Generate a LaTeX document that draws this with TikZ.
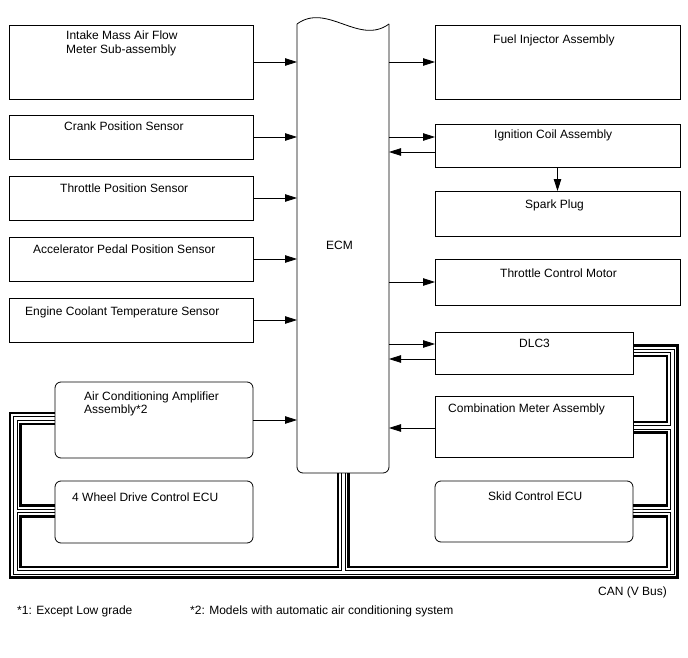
\documentclass[tikz,border=0pt]{standalone}
\usepackage{fontspec}
\setmainfont{Liberation Sans}
\usetikzlibrary{arrows.meta}
\begin{document}
\begin{tikzpicture}[x=1pt,y=-1pt,
  box/.style={draw,line width=0.8pt,inner sep=0,outer sep=0,anchor=north west},
  rbox/.style={box,rounded corners=6pt},
  lbl/.style={inner sep=0,anchor=base west,font=\fontsize{12}{14}\selectfont},
  arr/.style={line width=0.8pt,-{Triangle[length=12pt,width=7.5pt]}},
  busT/.style={line width=2.2pt},
  bust/.style={line width=0.6pt}]
\useasboundingbox (0,0) rectangle (688,658);
% left boxes
\node[box,minimum width=244,minimum height=74] (imf) at (9,25) {};
\node[box,minimum width=244,minimum height=44] (cps) at (9,115) {};
\node[box,minimum width=244,minimum height=44] (tps) at (9,176) {};
\node[box,minimum width=244,minimum height=44] (apps) at (9,237) {};
\node[box,minimum width=244,minimum height=44] (ects) at (9,298) {};
\node[rbox,minimum width=198,minimum height=76] (aca) at (55,382) {};
\node[rbox,minimum width=198,minimum height=62] (wd) at (55,481) {};
% right boxes
\node[box,minimum width=245,minimum height=74] (fia) at (435,25) {};
\node[box,minimum width=245,minimum height=43] (ica) at (435,124) {};
\node[box,minimum width=245,minimum height=45] (spk) at (435,191) {};
\node[box,minimum width=245,minimum height=46] (tcm) at (435,259) {};
\node[box,minimum width=198,minimum height=42] (dlc) at (435,332) {};
\node[box,minimum width=198,minimum height=61] (cma) at (435,396) {};
\node[rbox,minimum width=198,minimum height=61] (scu) at (435,481) {};
% ECM
\node[inner sep=0,outer sep=0,minimum width=92,minimum height=449,anchor=north west] (ecm) at (297,24) {};
\draw[line width=0.8pt,rounded corners=6pt] (ecm.north east) -- (ecm.south east) -- (ecm.south west) -- (ecm.north west);
\draw[line width=0.8pt] (ecm.north west) .. controls +(30,-22) and +(-30,22) .. (ecm.north east);
% labels
\node[lbl] (t1a) at (66,39.5) {Intake Mass Air Flow};
\node[lbl] (t1b) at (66,53.5) {Meter Sub-assembly};
\node[lbl] (t2) at (64,131) {Crank Position Sensor};
\node[lbl] (t3) at (60,192) {Throttle Position Sensor};
\node[lbl] (t4) at (33,253) {Accelerator Pedal Position Sensor};
\node[lbl] (t5) at (25,315) {Engine Coolant Temperature Sensor};
\node[lbl] (t6a) at (84,400) {Air Conditioning Amplifier};
\node[lbl] (t6b) at (84,413.5) {Assembly*2};
\node[lbl] (t7) at (72,501) {4 Wheel Drive Control ECU};
\node[lbl] (tecm) at (326,249) {ECM};
\node[lbl] (r1) at (493,44) {Fuel Injector Assembly};
\node[lbl] (r2) at (494,139) {Ignition Coil Assembly};
\node[lbl] (r3) at (525,208) {Spark Plug};
\node[lbl] (r4) at (500,277) {Throttle Control Motor};
\node[lbl] (r5) at (519,347) {DLC3};
\node[lbl] (r6) at (448,412) {Combination Meter Assembly};
\node[lbl] (r7) at (488,500) {Skid Control ECU};
\node[lbl,anchor=base east] (can) at (667,595) {CAN (V Bus)};
\node[lbl] (fn1) at (17,614) {*1: Except Low grade};
\node[lbl] (fn2) at (190,614) {*2: Models with automatic air conditioning system};
% arrows
\draw[arr] (imf.east) -- (imf.east -| ecm.west);
\draw[arr] (cps.east) -- (cps.east -| ecm.west);
\draw[arr] (tps.east) -- (tps.east -| ecm.west);
\draw[arr] (apps.east) -- (apps.east -| ecm.west);
\draw[arr] (ects.east) -- (ects.east -| ecm.west);
\draw[arr] (aca.east) -- (aca.east -| ecm.west);
\draw[arr] (ecm.east |- fia.west) -- (fia.west);
\draw[arr] (ecm.east |- 0,137) -- (ica.west |- 0,137);
\draw[arr] (ica.west |- 0,152) -- (ecm.east |- 0,152);
\draw[arr] (ica.south) -- (spk.north);
\draw[arr] (ecm.east |- tcm.west) -- (tcm.west);
\draw[arr] (ecm.east |- 0,344) -- (dlc.west |- 0,344);
\draw[arr] (dlc.west |- 0,359) -- (ecm.east |- 0,359);
\draw[arr] (cma.west |- 0,428) -- (ecm.east |- 0,428);
% CAN bus: outer loop
\draw[busT] (aca.west |- 0,413) -- (10,413) -- (10,577.5) -- (677.5,577.5) -- (677.5,345.5) -- (dlc.east |- 0,345.5);
\draw[bust] (aca.west |- 0,416.5) -- (13.5,416.5) -- (13.5,574) -- (674,574) -- (674,349) -- (dlc.east |- 0,349);
% AC - 4WD
\draw[bust] (aca.west |- 0,420) -- (17,420) -- (17,509) -- (wd.west |- 0,509);
\draw[busT] (aca.west |- 0,424) -- (20.5,424) -- (20.5,505.5) -- (wd.west |- 0,505.5);
% 4WD - ECM
\draw[bust] (wd.west |- 0,512.5) -- (17,512.5) -- (17,570.5) -- (341.5,570.5) -- (341.5,0 |- ecm.south);
\draw[busT] (wd.west |- 0,516.5) -- (20.5,516.5) -- (20.5,567) -- (338,567) -- (338,0 |- ecm.south);
% DLC3 - Combination meter
\draw[bust] (dlc.east |- 0,352.5) -- (670.5,352.5) -- (670.5,425.5) -- (cma.east |- 0,425.5);
\draw[busT] (dlc.east |- 0,356) -- (667,356) -- (667,422) -- (cma.east |- 0,422);
% Combination meter - Skid
\draw[bust] (cma.east |- 0,429) -- (670.5,429) -- (670.5,509) -- (scu.east |- 0,509);
\draw[busT] (cma.east |- 0,432.5) -- (667,432.5) -- (667,505.5) -- (scu.east |- 0,505.5);
% Skid - ECM
\draw[bust] (scu.east |- 0,512.5) -- (670.5,512.5) -- (670.5,570.5) -- (345,570.5) -- (345,0 |- ecm.south);
\draw[busT] (scu.east |- 0,516.5) -- (667,516.5) -- (667,567) -- (348.5,567) -- (348.5,0 |- ecm.south);
\end{tikzpicture}
\end{document}
